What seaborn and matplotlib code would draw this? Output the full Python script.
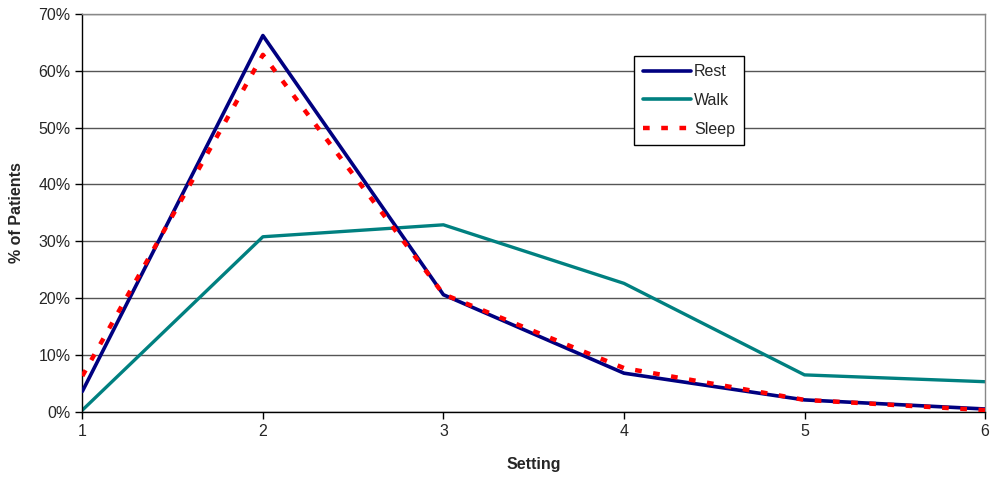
import numpy as np
import pandas as pd
import seaborn as sns
import matplotlib.pyplot as plt
from matplotlib.lines import Line2D

# data (% of patients per setting)
settings = [1, 2, 3, 4, 5, 6]
rest = [3.6, 66.2, 20.6, 6.8, 2.1, 0.5]
walk = [0.3, 30.8, 32.9, 22.6, 6.5, 5.3]
sleep = [6.3, 62.8, 20.7, 7.7, 2.1, 0.3]

df = pd.DataFrame({'Setting': settings * 3,
                   'pct': rest + walk + sleep,
                   'series': ['Rest'] * 6 + ['Walk'] * 6 + ['Sleep'] * 6})

sns.set_style('white')
plt.rcParams['font.family'] = ['Liberation Sans', 'DejaVu Sans']

fig, ax = plt.subplots(figsize=(9.92, 4.8), dpi=100)
fig.subplots_adjust(left=0.083, right=0.993, top=0.971, bottom=0.142)

dash = (1.5, 2.6)
palette = {'Rest': '#000080', 'Walk': '#008080', 'Sleep': '#ff0000'}
sns.lineplot(data=df, x='Setting', y='pct', hue='series', palette=palette,
             style='series', dashes={'Rest': '', 'Walk': '', 'Sleep': dash},
             ax=ax, legend=False)
for ln, lw in zip(ax.lines, [2.6, 2.4, 3.2]):
    ln.set_linewidth(lw)
ax.lines[0].set_zorder(3)
ax.lines[2].set_zorder(4)

ax.set_xlim(1, 6)
ax.set_ylim(0, 70)
ax.set_xticks(settings)
ax.set_yticks(np.arange(0, 71, 10))
ax.set_yticklabels([f'{v}%' for v in range(0, 71, 10)])
ax.yaxis.grid(True, color='#555555', linewidth=1)
ax.set_axisbelow(True)
ax.tick_params(axis='both', direction='out', length=5, width=1, labelsize=11.5,
               bottom=True, left=True, color='black')
for s in ['left', 'bottom']:
    ax.spines[s].set_color('black')
    ax.spines[s].set_linewidth(1)
for s in ['top', 'right']:
    ax.spines[s].set_color('#888888')
    ax.spines[s].set_linewidth(1)

ax.set_xlabel('Setting', fontsize=11.5, fontweight='bold', labelpad=13)
ax.set_ylabel('% of Patients', fontsize=11.5, fontweight='bold', labelpad=10)

handles = [Line2D([], [], color='#000080', lw=2.6),
           Line2D([], [], color='#008080', lw=2.6),
           Line2D([], [], color='#ff0000', lw=3.2, linestyle=(0, dash))]
leg = ax.legend(handles, ['Rest', 'Walk', 'Sleep'], loc='upper left',
                bbox_to_anchor=(0.611, 0.895), frameon=True, fancybox=False,
                fontsize=11.5, handlelength=3.0, handletextpad=0.2,
                borderpad=0.55, labelspacing=0.85, borderaxespad=0)
leg.get_frame().set_edgecolor('black')
leg.get_frame().set_linewidth(1)
leg.get_frame().set_alpha(1)

fig.savefig('out.png', dpi=100)
